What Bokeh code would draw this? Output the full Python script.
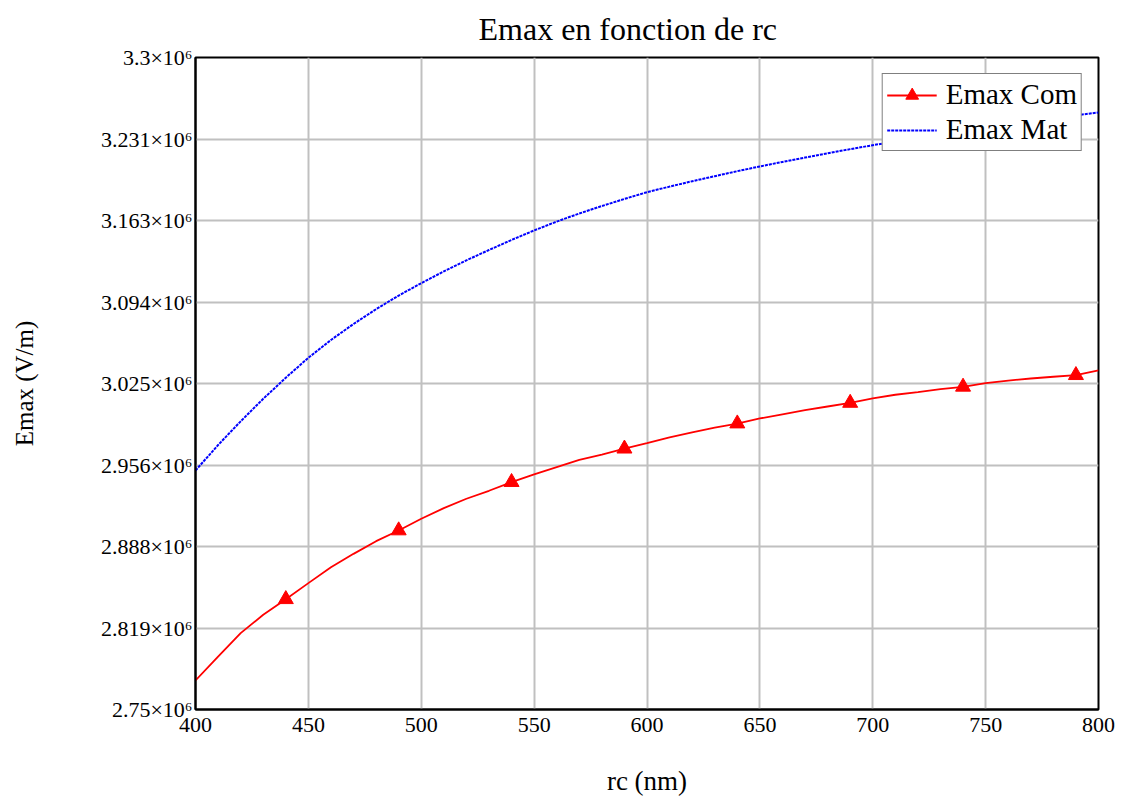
from bokeh.plotting import figure
from bokeh.models import FixedTicker, Range1d, Legend, LegendItem
from bokeh.embed import file_html
from bokeh.resources import INLINE

# ---- data (values in 10^6 V/m) ----
rc_nm = [400, 410, 420, 430, 440, 450, 460, 470, 480, 490,
         500, 510, 520, 530, 540, 550, 560, 570, 580, 590,
         600, 610, 620, 630, 640, 650, 660, 670, 680, 690,
         700, 710, 720, 730, 740, 750, 760, 770, 780, 790, 800]
emax_com = [2.7745, 2.7947, 2.8144, 2.8299, 2.8430, 2.8566, 2.8700, 2.8813, 2.8920, 2.9010,
            2.9109, 2.9199, 2.9278, 2.9345, 2.9418, 2.9483, 2.9544, 2.9605, 2.9651, 2.9700,
            2.9747, 2.9795, 2.9838, 2.9878, 2.9912, 2.9955, 2.9990, 3.0025, 3.0056, 3.0086,
            3.0125, 3.0155, 3.0178, 3.0203, 3.0222, 3.0253, 3.0275, 3.0292, 3.0307, 3.0320, 3.0360]
emax_mat = [2.9516, 2.9731, 2.9931, 3.0121, 3.0299, 3.0467, 3.0617, 3.0752, 3.0877, 3.0992,
            3.1096, 3.1196, 3.1289, 3.1376, 3.1461, 3.1541, 3.1616, 3.1684, 3.1747, 3.1807,
            3.1864, 3.1911, 3.1956, 3.1999, 3.2041, 3.2081, 3.2119, 3.2156, 3.2192, 3.2227,
            3.2260, 3.2292, 3.2323, 3.2353, 3.2382, 3.2410, 3.2437, 3.2463, 3.2488, 3.2512, 3.2536]
marker_rc = [440, 490, 540, 590, 640, 690, 740, 790]

x_ticks = [400, 450, 500, 550, 600, 650, 700, 750, 800]
y_ticks = [2.75e6, 2.81875e6, 2.8875e6, 2.95625e6, 3.025e6, 3.09375e6, 3.1625e6, 3.23125e6, 3.3e6]
y_tick_labels = ["2.75×10⁶", "2.819×10⁶", "2.888×10⁶", "2.956×10⁶", "3.025×10⁶",
                 "3.094×10⁶", "3.163×10⁶", "3.231×10⁶", "3.3×10⁶"]

com = [v * 1e6 for v in emax_com]
mat = [v * 1e6 for v in emax_mat]
mk_y = [com[rc_nm.index(r)] for r in marker_rc]

FONT = "Liberation Serif"

p = figure(width=1121, height=800, output_backend="svg", toolbar_location=None,
           x_range=Range1d(400, 800), y_range=Range1d(2.75e6, 3.3e6),
           min_border_left=195, min_border_right=23, min_border_top=57, min_border_bottom=91)

p.title.text = "Emax en fonction de rc"
p.title.align = "left"
p.title.vertical_align = "top"
p.title.offset = 283
p.title.standoff = 17
p.title.text_font = FONT
p.title.text_font_size = "32px"
p.title.text_font_style = "normal"
p.title.text_color = "black"

p.xaxis.ticker = FixedTicker(ticks=x_ticks)
p.yaxis.ticker = FixedTicker(ticks=y_ticks)
p.yaxis.major_label_overrides = {t: l for t, l in zip(y_ticks, y_tick_labels)}
for ax in (p.xaxis, p.yaxis):
    ax.major_tick_in = 0
    ax.major_tick_out = 0
    ax.minor_tick_in = 0
    ax.minor_tick_out = 0
    ax.axis_line_color = "black"
    ax.axis_line_width = 2
    ax.major_label_text_font = FONT
    ax.major_label_text_color = "black"
    ax.major_label_text_font_size = "22px"
    ax.axis_label_text_font = FONT
    ax.axis_label_text_font_style = "normal"
    ax.axis_label_text_color = "black"
p.xaxis.major_label_standoff = 8
p.xaxis.axis_label = "rc (nm)"
p.xaxis.axis_label_text_font_size = "27px"
p.xaxis.axis_label_standoff = 31

p.yaxis.major_label_standoff = 3
p.yaxis.axis_label = "Emax (V/m)"
p.yaxis.axis_label_text_font_size = "25px"
p.yaxis.axis_label_standoff = 60

p.xgrid.ticker = FixedTicker(ticks=x_ticks)
p.ygrid.ticker = FixedTicker(ticks=y_ticks)
p.grid.grid_line_color = "#c0c0c0"
p.grid.grid_line_width = 2

p.outline_line_color = "black"
p.outline_line_width = 2
p.background_fill_color = "white"
p.border_fill_color = "white"

r_com = p.line(rc_nm, com, line_color="#ff0000", line_width=1.8)
r_mk = p.scatter(marker_rc, mk_y, marker="triangle", size=15, fill_color="#ff0000",
                 line_color="#ff0000")
r_mat = p.line(rc_nm, mat, line_color="#0000ff", line_width=2, line_dash="3 1")

legend = Legend(items=[LegendItem(label="Emax Com", renderers=[r_com, r_mk]),
                       LegendItem(label="Emax Mat", renderers=[r_mat])],
                location="top_right")
legend.label_text_font = FONT
legend.label_text_font_size = "29px"
legend.label_text_color = "black"
legend.border_line_color = "black"
legend.border_line_width = 1.5
legend.background_fill_alpha = 1
legend.margin = 16
legend.padding = 4
legend.spacing = 2
legend.glyph_width = 50
legend.label_standoff = 9
legend.label_height = 32
legend.glyph_height = 32
p.add_layout(legend)

open("out.html", "w").write(file_html(p, INLINE))
